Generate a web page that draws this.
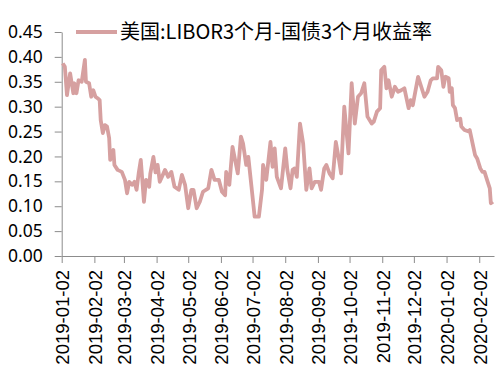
<!DOCTYPE html>
<html>
<head>
<meta charset="utf-8">
<script src="https://cdn.jsdelivr.net/npm/d3@7"></script>
<style>
  body { margin: 0; background: #fff; }
</style>
</head>
<body>
<svg id="chart"></svg>
<script>
// series: 美国:LIBOR3个月-国债3个月收益率
var seriesName = "美国:LIBOR3个月-国债3个月收益率";

var dates = [
  "2019-01-03","2019-01-05","2019-01-07","2019-01-10","2019-01-13","2019-01-14","2019-01-16","2019-01-18",
  "2019-01-21","2019-01-24","2019-01-25","2019-01-28","2019-01-30","2019-02-01","2019-02-03","2019-02-05",
  "2019-02-07","2019-02-08","2019-02-10","2019-02-12","2019-02-14","2019-02-16","2019-02-17","2019-02-20",
  "2019-02-21","2019-02-24","2019-02-28","2019-03-03","2019-03-05","2019-03-07","2019-03-10","2019-03-12",
  "2019-03-14","2019-03-16","2019-03-18","2019-03-21","2019-03-23","2019-03-26","2019-03-27","2019-03-30",
  "2019-04-01","2019-04-03","2019-04-05","2019-04-10","2019-04-13","2019-04-16","2019-04-19","2019-04-23",
  "2019-04-26","2019-04-29","2019-05-02","2019-05-05","2019-05-07","2019-05-10","2019-05-13","2019-05-16",
  "2019-05-21","2019-05-24","2019-05-27","2019-05-31","2019-06-03","2019-06-06","2019-06-07","2019-06-10",
  "2019-06-13","2019-06-18","2019-06-21","2019-06-23","2019-06-26","2019-06-28","2019-07-01","2019-07-04",
  "2019-07-08","2019-07-11","2019-07-12","2019-07-15","2019-07-19","2019-07-21","2019-07-23","2019-07-25",
  "2019-07-29","2019-08-02","2019-08-04","2019-08-07","2019-08-09","2019-08-11","2019-08-13","2019-08-16",
  "2019-08-19","2019-08-22","2019-08-25","2019-08-27","2019-08-30","2019-09-03","2019-09-05","2019-09-08",
  "2019-09-10","2019-09-13","2019-09-16","2019-09-19","2019-09-22","2019-09-24","2019-09-27","2019-10-01",
  "2019-10-04","2019-10-07","2019-10-10","2019-10-13","2019-10-16","2019-10-19","2019-10-23","2019-10-25",
  "2019-10-28","2019-10-31","2019-11-01","2019-11-04","2019-11-06","2019-11-08","2019-11-11","2019-11-14",
  "2019-11-17","2019-11-20","2019-11-23","2019-11-27","2019-11-29","2019-12-01","2019-12-06","2019-12-09",
  "2019-12-12","2019-12-15","2019-12-18","2019-12-20","2019-12-24","2019-12-25","2019-12-28","2019-12-30",
  "2020-01-01","2020-01-04","2020-01-05","2020-01-07","2020-01-08","2020-01-10","2020-01-12","2020-01-15",
  "2020-01-16","2020-01-19","2020-01-23","2020-01-24","2020-01-27","2020-01-29","2020-01-31","2020-02-03",
  "2020-02-05","2020-02-07","2020-02-10","2020-02-12","2020-02-13","2020-02-15"
];

var values = [
  0.387,0.380,0.323,0.367,0.327,0.347,0.327,0.353,
  0.350,0.394,0.350,0.347,0.320,0.333,0.320,0.317,
  0.313,0.273,0.247,0.263,0.260,0.237,0.193,0.213,
  0.183,0.173,0.169,0.153,0.126,0.149,0.143,0.149,
  0.133,0.166,0.193,0.109,0.153,0.139,0.165,0.199,
  0.168,0.183,0.149,0.173,0.159,0.169,0.139,0.133,
  0.163,0.143,0.096,0.133,0.133,0.096,0.109,0.129,
  0.136,0.173,0.153,0.153,0.129,0.122,0.169,0.143,
  0.219,0.166,0.240,0.226,0.183,0.199,0.139,0.079,
  0.079,0.133,0.183,0.153,0.229,0.179,0.216,0.159,
  0.136,0.216,0.173,0.136,0.173,0.176,0.159,0.266,
  0.226,0.133,0.176,0.136,0.149,0.149,0.133,0.176,
  0.183,0.166,0.156,0.229,0.193,0.166,0.300,0.206,
  0.347,0.266,0.320,0.327,0.347,0.280,0.266,0.270,
  0.290,0.297,0.373,0.380,0.337,0.353,0.320,0.340,
  0.330,0.333,0.337,0.297,0.313,0.303,0.360,0.340,
  0.320,0.330,0.353,0.357,0.357,0.380,0.373,0.340,
  0.360,0.357,0.330,0.337,0.303,0.297,0.273,0.276,
  0.260,0.253,0.250,0.253,0.223,0.203,0.196,0.176,
  0.169,0.169,0.149,0.136,0.106,0.109
];

var yTicks = [0, 0.05, 0.10, 0.15, 0.20, 0.25, 0.30, 0.35, 0.40, 0.45];
var xTickLabels = [
  "2019-01-02","2019-02-02","2019-03-02","2019-04-02","2019-05-02","2019-06-02","2019-07-02",
  "2019-08-02","2019-09-02","2019-10-02","2019-11-02","2019-12-02","2020-01-02","2020-02-02"
];
var xDomain = ["2019-01-02", "2020-02-16"];

var parseDate = d3.timeParse("%Y-%m-%d");
var lineColor = "#d6a0a0";
var axisColor = "#8c8c8c";

var dimensions = {
  width: 502,
  height: 383,
  left: 61.7,
  right: 494,
  top: 32,
  bottom: 256,
};

var dataset = dates.map(function (d, i) {
  return { date: parseDate(d), value: values[i] };
});

var svg = d3
  .select("#chart")
  .attr("width", dimensions.width)
  .attr("height", dimensions.height)
  .style("display", "block");

svg.append("rect")
  .attr("width", dimensions.width)
  .attr("height", dimensions.height)
  .attr("fill", "#fff");

var xScale = d3
  .scaleTime()
  .domain(xDomain.map(parseDate))
  .range([dimensions.left, dimensions.right]);

var yScale = d3
  .scaleLinear()
  .domain([0, 0.45])
  .range([dimensions.bottom, dimensions.top]);

// y axis
var yAxis = d3
  .axisLeft(yScale)
  .tickValues(yTicks)
  .tickFormat(d3.format(".2f"))
  .tickSize(7)
  .tickPadding(12)
  .tickSizeOuter(0);

var yG = svg
  .append("g")
  .attr("transform", "translate(" + dimensions.left + ",0)")
  .call(yAxis);
yG.selectAll("path, line").attr("stroke", axisColor);
yG.selectAll("text")
  .attr("fill", "#000")
  .style("font", "17.5px 'Noto Sans', sans-serif");

// x axis
var xAxis = d3
  .axisBottom(xScale)
  .tickValues(xTickLabels.map(parseDate))
  .tickFormat(d3.timeFormat("%Y-%m-%d"))
  .tickSize(7)
  .tickSizeOuter(0);

var xG = svg
  .append("g")
  .attr("transform", "translate(0," + dimensions.bottom + ")")
  .call(xAxis);
xG.selectAll("path, line").attr("stroke", axisColor);
xG.selectAll("text")
  .attr("fill", "#000")
  .style("font", "18.5px 'Liberation Sans', Arial, sans-serif")
  .style("text-anchor", "end")
  .attr("transform", "rotate(-90)")
  .attr("x", -14)
  .attr("y", 0)
  .attr("dy", "0.38em");

// line
var line = d3
  .line()
  .x(function (d) { return xScale(d.date); })
  .y(function (d) { return yScale(d.value); });

svg.append("path")
  .datum(dataset)
  .attr("d", line)
  .attr("fill", "none")
  .attr("stroke", lineColor)
  .attr("stroke-width", 3.8)
  .attr("stroke-linejoin", "round");

// legend
var legend = svg.append("g").attr("transform", "translate(76,32)");
legend.append("line")
  .attr("x1", 0)
  .attr("x2", 41)
  .attr("y1", 0)
  .attr("y2", 0)
  .attr("stroke", lineColor)
  .attr("stroke-width", 4);
legend.append("text")
  .attr("x", 44)
  .attr("y", 0)
  .attr("dy", "0.35em")
  .style("font", "20px 'Noto Sans CJK SC', sans-serif")
  .attr("fill", "#000")
  .text(seriesName);
</script>
</body>
</html>
